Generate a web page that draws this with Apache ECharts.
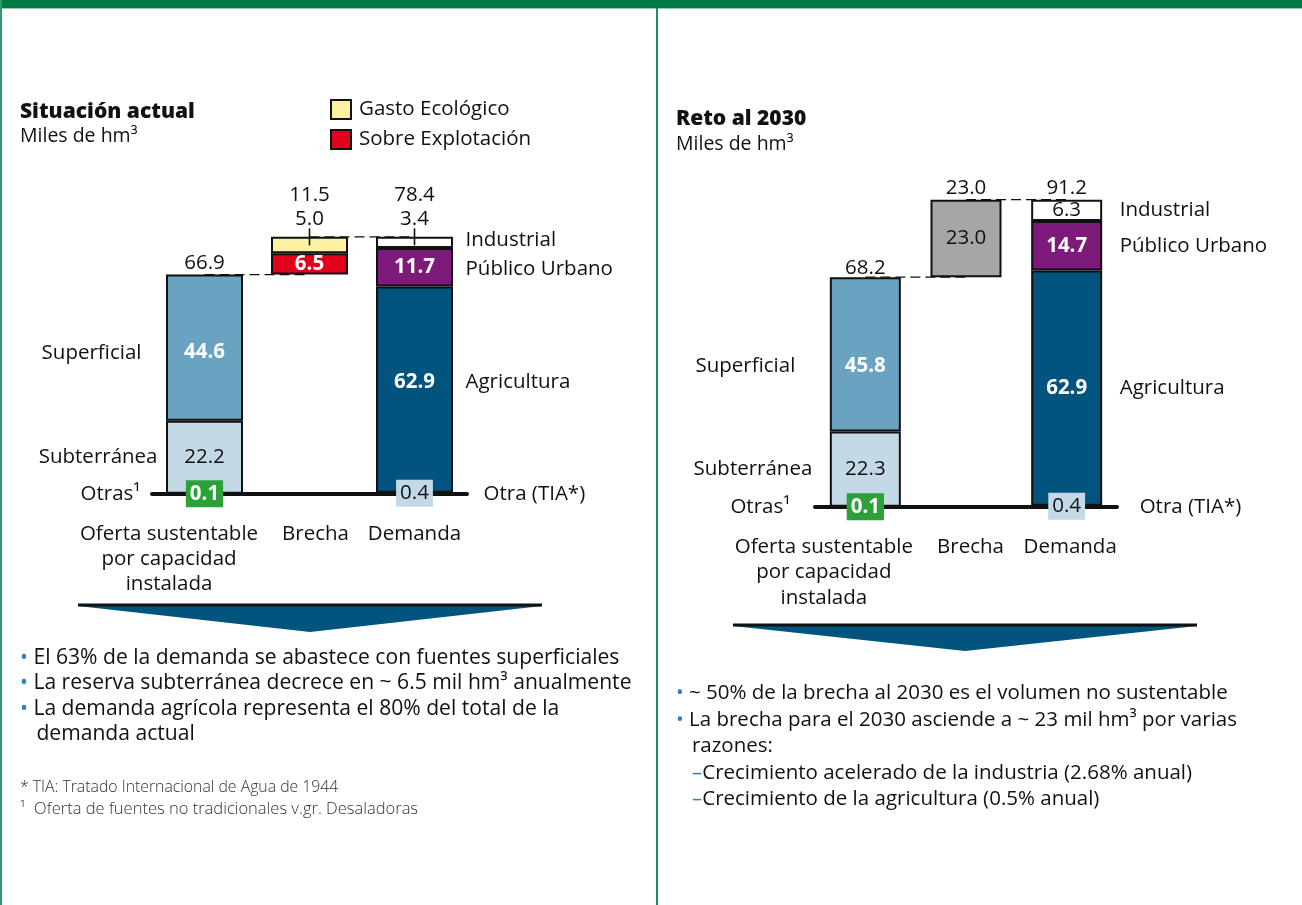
<!DOCTYPE html>
<html><head><meta charset="utf-8">
<script src="https://cdn.jsdelivr.net/npm/echarts@6/dist/echarts.min.js"></script>
<style>html,body{margin:0;padding:0;background:#fff}#c{width:1302px;height:905px}</style>
</head><body><div id="c"></div>
<script>
const FONT = '"Open Sans", "Noto Sans", sans-serif';
const INK = '#111111';
const FS = 20.5;

// ---- data ----
const categories = ['Oferta sustentable\npor capacidad\ninstalada', 'Brecha', 'Demanda'];

// Situación actual (miles de hm³)
const actOtras = [0.1, null, 0.4];
const actSubterranea = [22.2, null, null];
const actSuperficial = [44.6, null, null];
const actSobreExplotacion = [null, 6.5, null];
const actGastoEcologico = [null, 5.0, null];
const actAgricultura = [null, null, 62.9];
const actPublicoUrbano = [null, null, 11.7];
const actIndustrial = [null, null, 3.4];

// Reto al 2030 (miles de hm³)
const retOtras = [0.1, null, 0.4];
const retSubterranea = [22.3, null, null];
const retSuperficial = [45.8, null, null];
const retBrecha = [null, 23.0, null];
const retAgricultura = [null, null, 69.8];   // height as drawn in the picture
const retAgriculturaPrinted = '62.9';         // value as printed on the bar
const retPublicoUrbano = [null, null, 14.7];
const retIndustrial = [null, null, 6.3];

const legendNames = ['Gasto Ecológico', 'Sobre Explotación'];

// ---- helpers ----
const BW = [77, 71];
const fmt = v => Number(v).toFixed(1);
const clean = a => a.map(v => v == null ? '-' : v);
const v0 = (a, i) => a[i] || 0;
const WHITE_BOLD = { position: 'inside', color: '#fff', fontWeight: 'bold' };
const INSIDE = { position: 'inside', color: INK };

function bar(gi, name, data, color, label, extra) {
  return Object.assign({
    type: 'bar', name, xAxisIndex: gi, yAxisIndex: gi, stack: 's' + gi, barWidth: BW[gi], z: 3,
    data: clean(data),
    itemStyle: { color, borderColor: INK, borderWidth: 2 },
    label: Object.assign({ show: true, fontFamily: FONT, fontSize: FS, color: INK, formatter: p => fmt(p.value) }, label)
  }, extra || {});
}

function otrasSeries(gi, arr) {
  return {
    type: 'bar', name: 'Otras', xAxisIndex: gi, yAxisIndex: gi, stack: 's' + gi, barWidth: BW[gi], z: 4, silent: true,
    itemStyle: { color: 'rgba(0,0,0,0)', borderWidth: 0 },
    data: arr.map((v, i) => v == null ? '-' : {
      value: v,
      label: i === 0 ? { backgroundColor: '#2ca13a', color: '#fff', fontWeight: 'bold' }
                     : { backgroundColor: '#c3d9e5', color: INK }
    }),
    label: { show: true, position: 'inside', fontFamily: FONT, fontSize: FS, lineHeight: 22, padding: [3, 4, 2, 4], formatter: p => fmt(p.value) }
  };
}

function connector(gi, data) {
  return { type: 'line', xAxisIndex: gi, yAxisIndex: gi, z: 1, silent: true, symbol: 'none',
    data: clean(data), lineStyle: { color: INK, width: 1.3, type: [10, 5] } };
}

function textScatter(gi, items) {
  return { type: 'scatter', xAxisIndex: gi, yAxisIndex: gi, symbolSize: 0, z: 6, silent: true,
    itemStyle: { opacity: 1 },
    label: { show: true, fontFamily: FONT, fontSize: FS, color: INK },
    data: items.map(it => ({ value: [it.x, it.y], label: Object.assign({ formatter: it.text }, it.label) })) };
}

// ---- panel 1: Situación actual ----
const aOffer = v0(actOtras,0) + v0(actSubterranea,0) + v0(actSuperficial,0);
const aGap = v0(actSobreExplotacion,1) + v0(actGastoEcologico,1);
const aDemand = v0(actOtras,2) + v0(actAgricultura,2) + v0(actPublicoUrbano,2) + v0(actIndustrial,2);

// ---- panel 2: Reto al 2030 ----
const rOffer = v0(retOtras,0) + v0(retSubterranea,0) + v0(retSuperficial,0);
const rGap = v0(retBrecha,1);
const rDemand = v0(retOtras,2) + v0(retAgricultura,2) + v0(retPublicoUrbano,2) + v0(retIndustrial,2);

const series = [
  // left
  connector(0, [aOffer, aOffer, null]),
  connector(0, [null, aOffer + aGap, aDemand]),
  otrasSeries(0, actOtras),
  bar(0, 'Subterránea', actSubterranea, '#c3d9e5', INSIDE),
  bar(0, 'Superficial', actSuperficial, '#6aa3c2', Object.assign({ offset: [0, 4] }, WHITE_BOLD)),
  bar(0, 'Agricultura', actAgricultura, '#02547e', Object.assign({ offset: [0, -7] }, WHITE_BOLD)),
  bar(0, 'base', [null, aOffer, null], 'rgba(0,0,0,0)', { show: false }, { itemStyle: { color: 'rgba(0,0,0,0)', borderWidth: 0 }, silent: true }),
  bar(0, 'Sobre Explotación', actSobreExplotacion, '#e2001a', WHITE_BOLD),
  bar(0, 'Público Urbano', actPublicoUrbano, '#7d1a7a', WHITE_BOLD),
  bar(0, 'Gasto Ecológico', actGastoEcologico, '#fcf0a2', { position: 'top', distance: 7 }),
  bar(0, 'Industrial', actIndustrial, '#ffffff', { position: 'top', distance: 7 }),
  textScatter(0, [
    { x: 0, y: aOffer, text: fmt(aOffer), label: { position: 'top', distance: 1 } },
    { x: 1, y: aOffer + aGap, text: fmt(aGap), label: { position: 'top', distance: 31 } },
    { x: 2, y: aDemand, text: fmt(aDemand), label: { position: 'top', distance: 31 } },
    { x: 0, y: v0(actOtras,0) + v0(actSubterranea,0) + v0(actSuperficial,0) / 2, text: 'Superficial', label: { position: 'left', distance: 63, offset: [0, 5] } },
    { x: 0, y: v0(actOtras,0) + v0(actSubterranea,0) / 2, text: 'Subterránea', label: { position: 'left', distance: 47 } },
    { x: 0, y: 0, text: 'Otras¹', label: { position: 'left', distance: 64 } },
    { x: 2, y: aDemand - v0(actIndustrial,2) / 2, text: 'Industrial', label: { position: 'right', distance: 51, offset: [0, -2] } },
    { x: 2, y: v0(actOtras,2) + v0(actAgricultura,2) + v0(actPublicoUrbano,2) / 2, text: 'Público Urbano', label: { position: 'right', distance: 51, offset: [0, 2] } },
    { x: 2, y: v0(actOtras,2) + v0(actAgricultura,2) / 2, text: 'Agricultura', label: { position: 'right', distance: 51, offset: [0, -7] } },
    { x: 2, y: 0, text: 'Otra (TIA*)', label: { position: 'right', distance: 69 } }
  ]),
  { type: 'scatter', xAxisIndex: 0, yAxisIndex: 0, z: 7, silent: true, symbol: 'rect', symbolSize: [1.6, 17],
    itemStyle: { color: INK, opacity: 1 }, data: [[1, aOffer + aGap], [2, aDemand]] },

  // right
  connector(1, [rOffer, rOffer, null]),
  connector(1, [null, rOffer + rGap, rDemand]),
  otrasSeries(1, retOtras),
  bar(1, 'Subterránea', retSubterranea, '#c3d9e5', INSIDE),
  bar(1, 'Superficial', retSuperficial, '#6aa3c2', Object.assign({ offset: [0, 12] }, WHITE_BOLD)),
  bar(1, 'Agricultura', retAgricultura, '#02547e', Object.assign({ formatter: () => retAgriculturaPrinted }, WHITE_BOLD)),
  bar(1, 'base', [null, rOffer, null], 'rgba(0,0,0,0)', { show: false }, { itemStyle: { color: 'rgba(0,0,0,0)', borderWidth: 0 }, silent: true }),
  bar(1, 'Brecha 2030', retBrecha, '#a6a6a6', INSIDE),
  bar(1, 'Público Urbano', retPublicoUrbano, '#7d1a7a', WHITE_BOLD),
  bar(1, 'Industrial', retIndustrial, '#ffffff', INSIDE),
  textScatter(1, [
    { x: 0, y: rOffer, text: fmt(rOffer), label: { position: 'top', distance: -1 } },
    { x: 1, y: rOffer + rGap, text: fmt(rGap), label: { position: 'top', distance: 1 } },
    { x: 2, y: rDemand, text: fmt(rDemand), label: { position: 'top', distance: 1 } },
    { x: 0, y: v0(retOtras,0) + v0(retSubterranea,0) + v0(retSuperficial,0) / 2, text: 'Superficial', label: { position: 'left', distance: 70, offset: [0, 12] } },
    { x: 0, y: v0(retOtras,0) + v0(retSubterranea,0) / 2, text: 'Subterránea', label: { position: 'left', distance: 53 } },
    { x: 0, y: 0, text: 'Otras¹', label: { position: 'left', distance: 75 } },
    { x: 2, y: rDemand - v0(retIndustrial,2) / 2, text: 'Industrial', label: { position: 'right', distance: 53 } },
    { x: 2, y: v0(retOtras,2) + v0(retAgricultura,2) + v0(retPublicoUrbano,2) / 2, text: 'Público Urbano', label: { position: 'right', distance: 53 } },
    { x: 2, y: v0(retOtras,2) + v0(retAgricultura,2) / 2, text: 'Agricultura', label: { position: 'right', distance: 53 } },
    { x: 2, y: 0, text: 'Otra (TIA*)', label: { position: 'right', distance: 73 } }
  ])
];

const axisLabelBase = { interval: 0, fontFamily: FONT, fontSize: FS, color: INK };
const xData = shifts => categories.map((c, i) => ({ value: c, textStyle: { padding: shifts[i] } }));

const bulletsLeft =
  '{b|•} El 63% de la demanda se abastece con fuentes superficiales\n' +
  '{b|•} La reserva subterránea decrece en ~ 6.5 mil hm³ anualmente\n' +
  '{b|•} La demanda agrícola representa el 80% del total de la\n' +
  '   demanda actual';
const bulletsRight =
  '{b|•} ~ 50% de la brecha al 2030 es el volumen no sustentable\n' +
  '{b|•} La brecha para el 2030 asciende a ~ 23 mil hm³ por varias\n' +
  '   razones:\n' +
  '   {b|–}Crecimiento acelerado de la industria (2.68% anual)\n' +
  '   {b|–}Crecimiento de la agricultura (0.5% anual)';

const titleStyle = (size, weight) => ({ fontFamily: FONT, fontSize: size, fontWeight: weight, color: INK });

const option = {
  animation: false,
  backgroundColor: '#fff',
  title: [
    { text: 'Situación actual', left: 20, top: 102, padding: 0, textStyle: titleStyle(21, 800) },
    { text: 'Miles de hm³', left: 20, top: 126, padding: 0, textStyle: titleStyle(19.5, 'normal') },
    { text: 'Reto al 2030', left: 676, top: 109, padding: 0, textStyle: titleStyle(21, 800) },
    { text: 'Miles de hm³', left: 676, top: 134, padding: 0, textStyle: titleStyle(19.5, 'normal') },
    { text: bulletsLeft, left: 20, top: 645, padding: 0, textStyle: Object.assign(titleStyle(21.1, 'normal'), { lineHeight: 25.5,
        rich: { b: { color: '#2f7fc1', fontSize: 21.1, fontFamily: FONT, lineHeight: 25.5 } } }) },
    { text: bulletsRight, left: 676, top: 680, padding: 0, textStyle: Object.assign(titleStyle(FS, 'normal'), { lineHeight: 26.5,
        rich: { b: { color: '#2f7fc1', fontSize: FS, fontFamily: FONT, lineHeight: 26.5 } } }) },
    { text: '* TIA: Tratado Internacional de Agua de 1944', left: 20, top: 779, padding: 0, textStyle: Object.assign(titleStyle(15.8, 300), { color: '#333' }) },
    { text: '¹  Oferta de fuentes no tradicionales v.gr. Desaladoras', left: 20, top: 801, padding: 0, textStyle: Object.assign(titleStyle(16.5, 300), { color: '#333' }) }
  ],
  legend: {
    data: legendNames, orient: 'vertical', left: 330, top: 99, padding: 0, itemWidth: 20, itemHeight: 19, itemGap: 9,
    icon: 'rect', selectedMode: false, textStyle: { fontFamily: FONT, fontSize: FS, color: INK, padding: [0, 0, 0, 3] }
  },
  grid: [
    { left: 152, top: 166, width: 315, height: 328 },
    { left: 815, top: 170, width: 302, height: 337 }
  ],
  xAxis: [
    { type: 'category', gridIndex: 0, data: xData([[0, 71, 0, 0], [0, 0, 0, 12], 0]),
      axisLine: { lineStyle: { color: INK, width: 4 } }, axisTick: { show: false },
      axisLabel: Object.assign({ margin: 28, lineHeight: 25 }, axisLabelBase) },
    { type: 'category', gridIndex: 1, data: xData([[0, 83, 0, 0], [0, 0, 0, 9], [0, 0, 0, 7]]),
      axisLine: { lineStyle: { color: INK, width: 4 } }, axisTick: { show: false },
      axisLabel: Object.assign({ margin: 27, lineHeight: 25.5 }, axisLabelBase) }
  ],
  yAxis: [
    { type: 'value', gridIndex: 0, min: 0, max: 100, show: false },
    { type: 'value', gridIndex: 1, min: 0, max: 100, show: false }
  ],
  series,
  graphic: [
    { type: 'rect', shape: { x: 0, y: 0, width: 1302, height: 8 }, style: { fill: '#007a45' }, silent: true },
    { type: 'rect', shape: { x: 0, y: 8, width: 1302, height: 1 }, style: { fill: '#8fcfae' }, silent: true },
    { type: 'rect', shape: { x: 0, y: 0, width: 2, height: 905 }, style: { fill: '#2e9a68' }, silent: true },
    { type: 'rect', shape: { x: 656, y: 8, width: 2, height: 897 }, style: { fill: '#1f8f5c' }, silent: true },
    { type: 'polygon', shape: { points: [[78, 606], [542, 606], [310, 632]] }, style: { fill: '#02547e' }, silent: true },
    { type: 'line', shape: { x1: 78, y1: 605, x2: 542, y2: 605 }, style: { stroke: INK, lineWidth: 3 }, silent: true },
    { type: 'polygon', shape: { points: [[733, 626], [1197, 626], [965, 651]] }, style: { fill: '#02547e' }, silent: true },
    { type: 'line', shape: { x1: 733, y1: 625, x2: 1197, y2: 625 }, style: { stroke: INK, lineWidth: 3 }, silent: true }
  ]
};

const chart = echarts.init(document.getElementById('c'), null, { renderer: 'canvas' });
chart.setOption(option);
</script></body></html>
